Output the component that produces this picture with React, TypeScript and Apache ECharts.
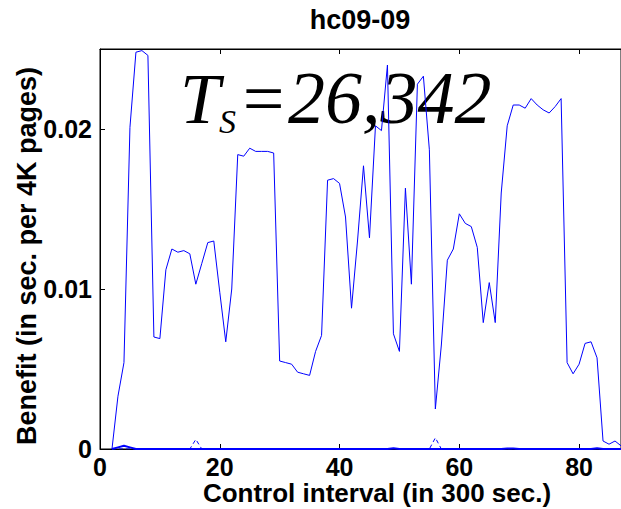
import React, { useEffect, useRef } from "react";
import * as echarts from "echarts";

const xValues = [
  2, 3, 4, 5, 6, 7, 8, 9, 10, 11, 12, 13, 14, 15, 16, 17, 18, 19, 20, 21, 22, 23, 24, 25, 26, 27, 28, 29,
  30, 31, 32, 33, 34, 35, 36, 37, 38, 39, 40, 41, 42, 43, 44, 45, 46, 47, 48, 49, 50, 51, 52, 53, 54, 55,
  56, 57, 58, 59, 60, 61, 62, 63, 64, 65, 66, 67, 68, 69, 70, 71, 72, 73, 74, 75, 76, 77, 78, 79, 80, 81,
  82, 83, 84, 85, 86, 87,
];

const benefit = [
  0, 0.0033, 0.0054, 0.0201, 0.0248, 0.0249, 0.0246, 0.007, 0.0069, 0.0112, 0.0125, 0.0123, 0.0124, 0.0122,
  0.0103, 0.0116, 0.0129, 0.013, 0.0098, 0.0067, 0.01, 0.0184, 0.0183, 0.0188, 0.0186, 0.0186, 0.0186, 0.0185,
  0.0055, 0.0054, 0.0053, 0.0048, 0.0047, 0.0046, 0.0061, 0.0071, 0.0168, 0.0169, 0.0166, 0.0145, 0.0088,
  0.013, 0.0177, 0.0132, 0.0202, 0.0199, 0.024, 0.0072, 0.0061, 0.0163, 0.0103, 0.0228, 0.0233, 0.0187,
  0.0025, 0.0065, 0.0118, 0.0125, 0.0147, 0.0141, 0.0139, 0.0126, 0.0079, 0.0104, 0.0079, 0.016, 0.0202,
  0.0215, 0.0215, 0.0213, 0.0219, 0.0215, 0.0212, 0.021, 0.0214, 0.0219, 0.0054, 0.0047, 0.0053, 0.0066,
  0.0067, 0.0057, 0.0005, 0.0003, 0.0005, 0.0002,
];

// near-zero solid series
const baseSeries = [
  0, 0.0001, 0.0002, 0.0001, 0, 0, 0, 0, 0, 0, 0, 0, 0, 0, 0, 0, 0, 0, 0, 0, 0, 0, 0, 0, 0, 0, 0, 0,
  0, 0, 0, 0, 0, 0, 0, 0, 0, 0, 0, 0, 0, 0, 0, 0, 0, 0, 0, 0.00005, 0, 0, 0, 0, 0, 0,
  0, 0, 0, 0, 0, 0, 0, 0, 0, 0, 0, 0, 0.00003, 0.00003, 0, 0, 0, 0, 0, 0, 0, 0, 0, 0, 0, 0,
  0, 0.00005, 0, 0, 0, 0,
];

// dashed series near zero
const dashedSeries = [
  0, 0, 0, 0, 0, 0, 0, 0, 0, 0, 0, 0, 0, 0, 0.0006, 0, 0, 0, 0, 0, 0, 0, 0, 0, 0, 0, 0, 0,
  0, 0, 0, 0, 0, 0, 0, 0, 0, 0, 0, 0, 0, 0, 0, 0, 0, 0, 0, 0, 0, 0, 0, 0, 0, 0,
  0.0007, 0, 0, 0, 0, 0, 0, 0, 0, 0, 0, 0, 0, 0, 0, 0, 0, 0, 0, 0, 0, 0, 0, 0, 0, 0,
  0, 0, 0, 0, 0, 0,
];

const titleText = "hc09-09";
const xName = "Control interval (in 300 sec.)";
const yName = "Benefit (in sec. per 4K pages)";
const annotationMain = "T";
const annotationSub = "S";
const annotationRest = "=26,342";

const SANS = '"Liberation Sans", Arial, sans-serif';
const SERIF = '"Liberation Serif", "Times New Roman", serif';

export default function App() {
  const ref = useRef<HTMLDivElement>(null);
  useEffect(() => {
    if (!ref.current) return;
    const chart = echarts.init(ref.current, undefined, { renderer: "svg" });
    const pair = (arr: number[]) => xValues.map((x, i) => [x, arr[i]]);
    const axisCommon = {
      type: "value" as const,
      axisTick: { show: true, inside: true, length: 5, lineStyle: { color: "#000", width: 1 } },
      axisLine: { show: true, lineStyle: { color: "#000", width: 1 } },
      splitLine: { show: false },
    };
    chart.setOption({
      animation: false,
      backgroundColor: "#fff",
      grid: {
        left: 100,
        top: 49,
        right: -3,
        bottom: 60,
        show: true,
        borderColor: "#000",
        borderWidth: 1,
        backgroundColor: "transparent",
      },
      xAxis: [
        {
          ...axisCommon,
          min: 0,
          max: 87,
          interval: 20,
          position: "bottom",
          axisLabel: {
            show: true,
            showMaxLabel: false,
            margin: 5,
            lineHeight: 25,
            color: "#000",
            fontFamily: SANS,
            fontWeight: "bold",
            fontSize: 25,
          },
        },
        {
          ...axisCommon,
          min: 0,
          max: 87,
          interval: 20,
          position: "top",
          axisLabel: { show: false },
        },
      ],
      yAxis: [
        {
          ...axisCommon,
          min: 0,
          max: 0.025,
          interval: 0.01,
          position: "left",
          axisLabel: {
            show: true,
            showMaxLabel: false,
            margin: 8,
            color: "#000",
            fontFamily: SANS,
            fontWeight: "bold",
            fontSize: 25,
          },
        },
      ],
      graphic: [
        {
          type: "text",
          z: 0,
          style: {
            x: 360,
            y: 19.5,
            text: titleText,
            font: `bold 27px ${SANS}`,
            fill: "#000",
            align: "center",
            verticalAlign: "middle",
          },
        },
        {
          type: "text",
          z: 0,
          style: {
            x: 377,
            y: 493,
            text: xName,
            font: `bold 26px ${SANS}`,
            fill: "#000",
            align: "center",
            verticalAlign: "middle",
          },
        },
        {
          type: "text",
          z: 0,
          x: 27,
          y: 256,
          rotation: Math.PI / 2,
          style: {
            x: 0,
            y: 0,
            text: yName,
            font: `bold 27px ${SANS}`,
            fill: "#000",
            align: "center",
            verticalAlign: "middle",
          },
        },
        {
          type: "text",
          z: 0,
          style: {
            x: 180,
            y: 98.7,
            text: annotationMain,
            font: `italic 72px ${SERIF}`,
            fill: "#000",
            align: "left",
            verticalAlign: "middle",
          },
        },
        {
          type: "text",
          z: 0,
          style: {
            x: 219,
            y: 121.5,
            text: annotationSub,
            font: `italic 34px ${SERIF}`,
            fill: "#000",
            align: "left",
            verticalAlign: "middle",
          },
        },
        {
          type: "text",
          z: 0,
          style: {
            x: 238,
            y: 98.2,
            text: annotationRest,
            font: `italic 74px ${SERIF}`,
            fill: "#000",
            align: "left",
            verticalAlign: "middle",
          },
        },
      ],
      series: [
        {
          type: "line",
          data: pair(baseSeries),
          showSymbol: false,
          symbol: "none",
          lineStyle: { color: "#0000ff", width: 2 },
          z: 3,
        },
        {
          type: "line",
          data: pair(dashedSeries),
          showSymbol: false,
          symbol: "none",
          lineStyle: { color: "#0000ff", width: 1, type: [4, 3] },
          z: 4,
        },
        {
          type: "line",
          data: pair(benefit),
          showSymbol: false,
          symbol: "none",
          lineStyle: { color: "#0000ff", width: 1 },
          z: 5,
        },
      ],
    });
    return () => chart.dispose();
  }, []);
  return (
    <div
      ref={ref}
      style={{ position: "fixed", left: 0, top: 0, width: 621, height: 509, background: "#fff" }}
    />
  );
}
